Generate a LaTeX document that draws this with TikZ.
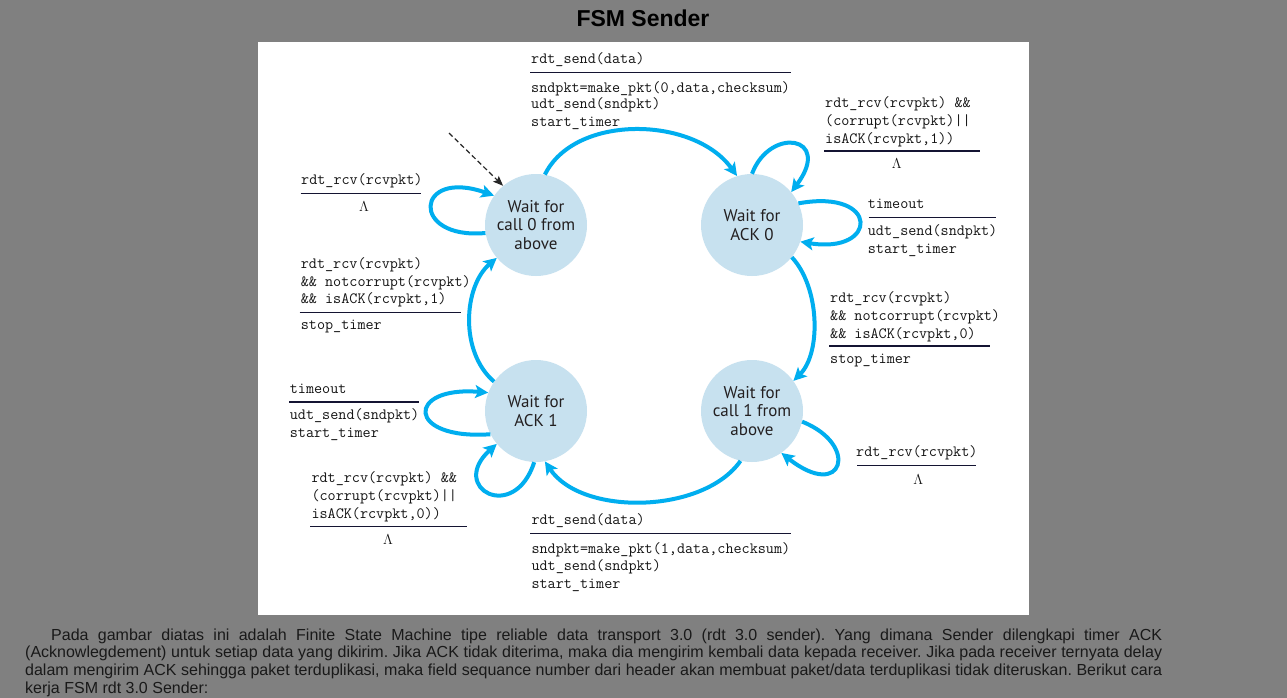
\documentclass[tikz,border=0pt]{standalone}
\usepackage{fontspec}
\setmainfont{Liberation Sans}
\newfontfamily\circf{PT Sans}
\usetikzlibrary{arrows.meta}
\definecolor{bggray}{RGB}{128,128,128}
\definecolor{arrowblue}{RGB}{0,174,239}
\definecolor{statefill}{RGB}{199,225,239}
\definecolor{rulecol}{RGB}{20,20,50}
\definecolor{statetext}{RGB}{35,31,32}
\definecolor{labtext}{RGB}{20,20,20}
\begin{document}
\begin{tikzpicture}[x=1pt,y=-1pt,
  state/.style={circle, fill=statefill, minimum size=102pt, inner sep=0pt,
    font=\circf\fontsize{17}{18.8}\selectfont, text=statetext, align=center},
  lab/.style={anchor=base west, inner sep=0pt, text=labtext,
    font=\ttfamily\fontsize{15.7}{17.5}\selectfont},
  lam/.style={anchor=base, inner sep=0pt, text=labtext, font=\fontsize{14}{14}\selectfont},
  rulel/.style={draw=rulecol, line width=1.3pt},
  arr/.style={draw=arrowblue, line width=4pt,
    -{Stealth[length=13pt,width=13pt,inset=3pt]}},
  initarr/.style={draw=black!85, line width=1.2pt, dash pattern=on 5pt off 3pt,
    -{Stealth[length=10pt,width=8pt,inset=2pt]}}
]
\useasboundingbox (0,0) rectangle (1287,698);
\fill[bggray] (0,0) rectangle (1287,698);
\fill[white] (258,42) rectangle (1029,615);

% title
\node[font=\bfseries\fontsize{23}{23}\selectfont, inner sep=0pt] (title) at (643,18) {FSM Sender};

% states
\node[state] (c0) at (536,225) {Wait for\\call 0 from\\above};
\node[state] (a0) at (752,225) {Wait for\\ACK 0};
\node[state] (a1) at (536,411) {Wait for\\ACK 1};
\node[state] (c1) at (752,411) {Wait for\\call 1 from\\above};

% outer transitions
\draw[arr] (c0.80) .. controls +(30,-61) and +(-43,-60) .. (a0.107);
\draw[arr] (a0.-39) .. controls +(28,30) and +(28,-28) .. (c1.36);
\draw[arr] (c1.-103) .. controls +(-37,53) and +(37,55) .. (a1.-80);
\draw[arr] (a1.145) .. controls +(-35,-30) and +(-33,28) .. (c0.220);

% self loops
\draw[arr] (c0.189) .. controls +(-76,7) and +(-79,-28) .. (c0.145);
\draw[arr] (a0.90) .. controls +(18,-48) and +(42,-56) .. (a0.40);
\draw[arr] (a0.25) .. controls +(82,-15) and +(78,13) .. (a0.-19);
\draw[arr] (a1.207) .. controls +(-85,6) and +(-82,-7) .. (a1.159);
\draw[arr] (a1.268) .. controls +(-20,62) and +(-49,44) .. (a1.220);
\draw[arr] (c1.-12) .. controls +(58,23) and +(62,49) .. (c1.-55);

% initial arrow
\coordinate (init) at (449,133);
\draw[initarr] (init) -- (c0.130);

% top label
\node[lab] (t1) at (531,63.3) {rdt\_send(data)};
\draw[rulel] (530,72.3) -- (791,72.3);
\node[lab] (t2) at (531,92.5) {sndpkt=make\_pkt(0,data,checksum)};
\node[lab] (t3) at (531,109) {udt\_send(sndpkt)};
\node[lab] (t4) at (531,127) {start\_timer};

% top-left loop label
\node[lab] (l1) at (301,184) {rdt\_rcv(rcvpkt)};
\draw[rulel] (300.7,193.3) -- (420.7,193.3);
\node[lam] (l2) at (364,211.5) {$\Lambda$};

% left middle label
\node[lab] (m1) at (300.7,268) {rdt\_rcv(rcvpkt)};
\node[lab] (m2) at (300.7,286.3) {\&\& notcorrupt(rcvpkt)};
\node[lab] (m3) at (300.7,303.3) {\&\& isACK(rcvpkt,1)};
\draw[rulel] (299.7,312.3) -- (460.7,312.3);
\node[lab] (m4) at (300.7,329) {stop\_timer};

% top-right loop label
\node[lab] (r1) at (825,107.3) {rdt\_rcv(rcvpkt) \&\&};
\node[lab] (r2) at (825,125.7) {(corrupt(rcvpkt)||};
\node[lab] (r3) at (825,143.3) {isACK(rcvpkt,1))};
\draw[rulel] (824,151) -- (980,151);
\node[lam] (r4) at (896.7,168) {$\Lambda$};

% right timeout label
\node[lab] (s1) at (867.7,208) {timeout};
\draw[rulel] (868.7,217.3) -- (996,217.3);
\node[lab] (s2) at (867.7,235.7) {udt\_send(sndpkt)};
\node[lab] (s3) at (867.7,253.3) {start\_timer};

% right middle label
\node[lab] (n1) at (830,302.3) {rdt\_rcv(rcvpkt)};
\node[lab] (n2) at (830,320) {\&\& notcorrupt(rcvpkt)};
\node[lab] (n3) at (830,338) {\&\& isACK(rcvpkt,0)};
\draw[rulel] (829.3,346) -- (990,346);
\node[lab] (n4) at (830,363.3) {stop\_timer};

% bottom-right loop label
\node[lab] (b1) at (856,456.7) {rdt\_rcv(rcvpkt)};
\draw[rulel] (857,465.3) -- (975.7,465.3);
\node[lam] (b2) at (918.3,484) {$\Lambda$};

% bottom label
\node[lab] (u1) at (531.3,524.7) {rdt\_send(data)};
\draw[rulel] (530.3,533.3) -- (790.7,533.3);
\node[lab] (u2) at (531.3,553.3) {sndpkt=make\_pkt(1,data,checksum)};
\node[lab] (u3) at (531.3,570.7) {udt\_send(sndpkt)};
\node[lab] (u4) at (531.3,588) {start\_timer};

% left timeout label
\node[lab] (k1) at (289.7,393.3) {timeout};
\draw[rulel] (289,402) -- (419,402);
\node[lab] (k2) at (289.7,419.7) {udt\_send(sndpkt)};
\node[lab] (k3) at (289.7,437.3) {start\_timer};

% bottom-left loop label
\node[lab] (q1) at (311.3,482.3) {rdt\_rcv(rcvpkt) \&\&};
\node[lab] (q2) at (311.3,500) {(corrupt(rcvpkt)||};
\node[lab] (q3) at (311.3,518) {isACK(rcvpkt,0))};
\draw[rulel] (310.3,526.7) -- (467,526.7);
\node[lam] (q4) at (388,544) {$\Lambda$};

% paragraph
\node[anchor=base west, inner sep=0pt, text width=1137pt, align=justify,
  font=\fontsize{16}{17.7}\selectfont\frenchspacing, text=black!90] (para) at (25,640)
{\hspace*{26pt}Pada gambar diatas ini adalah Finite State Machine tipe reliable data transport 3.0 (rdt 3.0 sender). Yang dimana Sender dilengkapi timer ACK\linebreak
(Acknowlegdement) untuk setiap data yang dikirim. Jika ACK tidak diterima, maka dia mengirim kembali data kepada receiver. Jika pada receiver ternyata delay\linebreak
dalam mengirim ACK sehingga paket terduplikasi, maka field sequance number dari header akan membuat paket/data terduplikasi tidak diteruskan. Berikut cara\linebreak
kerja FSM rdt 3.0 Sender:};
\end{tikzpicture}
\end{document}
